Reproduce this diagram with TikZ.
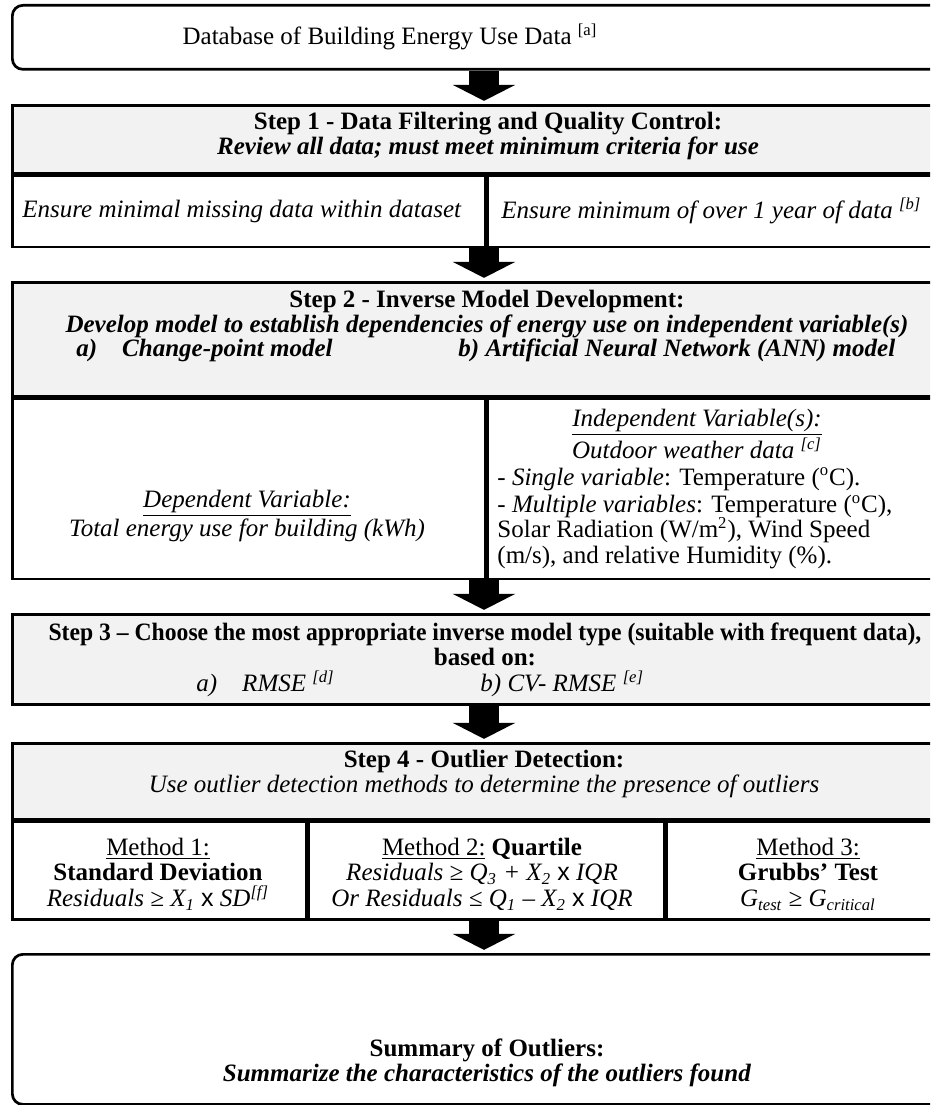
\documentclass[tikz,border=0pt]{standalone}
\usepackage{fontspec}
\usepackage{graphicx}
\setmainfont{Liberation Serif}
\newfontfamily\timesfont{Liberation Sans}
\usetikzlibrary{arrows.meta, positioning, calc}

\begin{document}
\begin{tikzpicture}[
      x=0.48pt, y=-0.48pt,
      font=\fontsize{12}{12.3}\selectfont,
      endbox/.style={rectangle, draw, line width=1.3pt, rounded corners=5pt, anchor=north west, minimum width=454.1pt, inner sep=0pt, align=center},
      head/.style={rectangle, draw, line width=1.3pt, fill=black!5, anchor=north west, minimum width=454.1pt, inner sep=0pt, align=center},
      cell/.style={rectangle, draw, line width=1.3pt, anchor=north west, inner sep=0pt, align=center},
      txt/.style={inner sep=0pt, align=center},
      flow/.style={-{Triangle[length=7.7pt, width=29.8pt]}, line width=14.4pt, shorten >=1.5pt}
    ]
    \useasboundingbox (0,0) rectangle (930,1105);
    \clip (0,0) rectangle (930,1105);
    \coordinate (axis) at (484,0);

    \node[endbox, minimum height=30.7pt] (db) at (11,4) {};
    \node[txt] (dbtext) at (390,37) {Database of Building Energy Use Data \textsuperscript{[a]}};

    \node[head, minimum height=32.6pt] (s1head) at (11,104) {};
    \node[txt] (s1title) at (488,136) {\textbf{Step 1 - Data Filtering and Quality Control:}\\\textbf{\textit{Review all data; must meet minimum criteria for use}}};
    \node[cell, minimum width=227pt, minimum height=34.1pt] (s1a) at (s1head.south west) {};
    \node[cell, minimum width=227.1pt, minimum height=34.1pt] (s1b) at (s1a.north east) {};
    \node[txt] (missing) at (242,211) {\textit{Ensure minimal missing data within dataset}};
    \node[txt, anchor=west] (oneyear) at (501,211) {\textit{Ensure minimum of over 1 year of data \textsuperscript{[b]}}};

    \node[head, minimum height=54.7pt] (s2head) at (11,281) {};
    \node[txt] (s2title) at (487,314) {\textbf{Step 2 - Inverse Model Development:}\\\textbf{\textit{Develop model to establish dependencies of energy use on independent variable(s)}}};
    \node[txt, anchor=west] (s2opta) at (76,350) {\textbf{\textit{a)\quad Change-point model}}};
    \node[txt, anchor=west] (s2optb) at (458,350) {\textbf{\textit{b) Artificial Neural Network (ANN) model}}};
    \node[cell, minimum width=227pt, minimum height=86.4pt] (s2a) at (s2head.south west) {};
    \node[cell, minimum width=227.1pt, minimum height=86.4pt] (s2b) at (s2a.north east) {};
    \node[txt] (depvar) at (247,516) {\textit{\underline{Dependent Variable:}}\\\textit{Total energy use for building (kWh)}};
    \node[txt] (indepvar) at (697,434) {\textit{\underline{Independent Variable(s):}}\\\textit{Outdoor weather data \textsuperscript{[c]}}};
    \node[txt, anchor=west] (single) at (497,479) {- \textit{Single variable}: Temperature (\textsuperscript{o}C).};
    \node[txt, anchor=west, align=left] (multi) at (497,532) {- \textit{Multiple variables}: Temperature (\textsuperscript{o}C),\\Solar Radiation (W/m\textsuperscript{2}), Wind Speed\\(m/s), and relative Humidity (\%).};

    \node[head, minimum height=43.2pt] (s3head) at (11,613) {};
    \node[txt] (s3title) at (485,644.5) {\textbf{\scalebox{0.946}[1]{Step 3 – Choose the most appropriate inverse model type (suitable with frequent data),}}\\\textbf{based on:}};
    \node[txt, anchor=west] (s3opta) at (196,684) {\textit{a)\quad RMSE \textsuperscript{[d]}}};
    \node[txt, anchor=west] (s3optb) at (480,684) {\textit{b) CV- RMSE \textsuperscript{[e]}}};

    \node[head, minimum height=36.5pt] (s4head) at (11,742) {};
    \node[txt] (s4title) at (484,774) {\textbf{Step 4 - Outlier Detection:}\\\textit{Use outlier detection methods to determine the presence of outliers}};
    \node[cell, minimum width=141.1pt, minimum height=46.6pt] (m1) at (s4head.south west) {};
    \node[cell, minimum width=170.4pt, minimum height=46.6pt] (m2) at (m1.north east) {};
    \node[cell, minimum width=142.6pt, minimum height=46.6pt] (m3) at (m2.north east) {};
    \node[txt] (m1txt) at (158,874) {\underline{Method 1:}\\\textbf{Standard Deviation}\\\textit{Residuals ≥ X\textsubscript{1}} {\timesfont x} \textit{SD\textsuperscript{[f]}}};
    \node[txt] (m2txt) at (482,874) {\underline{Method 2:} \textbf{Quartile}\\\textit{Residuals ≥ Q\textsubscript{3} + X\textsubscript{2}} {\timesfont x} \textit{IQR}\\\textit{Or Residuals ≤ Q\textsubscript{1} – X\textsubscript{2}} {\timesfont x} \textit{IQR}};
    \node[txt] (m3txt) at (808,874) {\underline{Method 3:}\\\textbf{Grubbs’ Test}\\\textit{G\textsubscript{test} ≥ G\textsubscript{critical}}};

    \node[endbox, minimum height=72pt] (summary) at (11,953) {};
    \node[txt] (sumtext) at (487,1063) {\textbf{Summary of Outliers:}\\\textbf{\textit{Summarize the characteristics of the outliers found}}};

    \draw[flow] (db.south -| axis) -- (s1head.north -| axis);
    \draw[flow] (s1a.south -| axis) -- (s2head.north -| axis);
    \draw[flow] (s2a.south -| axis) -- (s3head.north -| axis);
    \draw[flow] (s3head.south -| axis) -- (s4head.north -| axis);
    \draw[flow] (m2.south -| axis) -- (summary.north -| axis);
  \end{tikzpicture}
\end{document}
